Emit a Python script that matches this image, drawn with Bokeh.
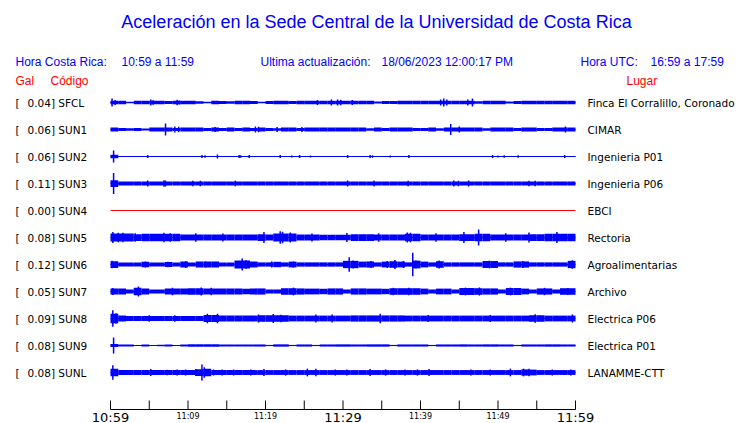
from bokeh.plotting import figure
from bokeh.models import Range1d
from bokeh.core.properties import value
from bokeh.embed import file_html
from bokeh.resources import INLINE

# ---------------- data ----------------
title_text = "Aceleración en la Sede Central de la Universidad de Costa Rica"
codes = ["SFCL", "SUN1", "SUN2", "SUN3", "SUN4", "SUN5", "SUN6", "SUN7", "SUN8", "SUN9", "SUNL"]
places = ["Finca El Corralillo, Coronado", "CIMAR", "Ingenieria P01", "Ingenieria P06", "EBCI",
          "Rectoria", "Agroalimentarias", "Archivo", "Electrica P06", "Electrica P01", "LANAMME-CTT"]
peaks_gal = [0.04, 0.06, 0.06, 0.11, 0.00, 0.08, 0.12, 0.05, 0.09, 0.08, 0.08]

# band half-width per minute (mGal), 60 minutes per station
band_sfcl = [19, 19, 8, 19, 19, 19, 19, 15, 19, 19, 19, 12, 8, 19, 15, 12, 19, 19, 15, 8,
             15, 19, 19, 15, 19, 19, 19, 19, 19, 19, 19, 19, 19, 19, 10, 15, 15, 19, 19, 19,
             19, 19, 19, 19, 19, 19, 19, 12, 19, 19, 19, 10, 15, 19, 19, 19, 19, 19, 19, 19]
band_sun1 = [21, 15, 12, 15, 10, 21, 21, 21, 15, 21, 21, 21, 15, 21, 15, 21, 15, 21, 15, 21,
             15, 12, 21, 21, 15, 21, 21, 21, 21, 21, 21, 21, 21, 12, 21, 15, 21, 21, 21, 15,
             15, 21, 12, 21, 21, 21, 21, 21, 12, 21, 21, 21, 15, 21, 21, 15, 15, 21, 21, 21]
band_sun2 = [18] + [6] * 59
band_sun3 = [35] + [22] * 59
band_sun4 = [0] * 60
band_sun5 = [42, 42, 42, 35, 38, 38, 38, 38, 38, 32, 32, 32, 32, 32, 32, 30, 30, 30, 30, 35,
             30, 42, 42, 42, 32, 32, 32, 28, 28, 28, 28, 35, 35, 35, 32, 32, 32, 32, 38, 38,
             32, 32, 32, 32, 32, 35, 35, 40, 40, 32, 32, 32, 32, 32, 35, 35, 38, 38, 38, 38]
band_sun6 = [35, 22, 22, 22, 28, 22, 22, 26, 22, 30, 22, 30, 30, 30, 22, 22, 42, 42, 30, 22,
             22, 28, 22, 30, 22, 22, 22, 22, 22, 22, 38, 38, 30, 32, 22, 30, 34, 30, 22, 40,
             30, 22, 34, 22, 22, 22, 22, 22, 36, 36, 22, 22, 32, 32, 22, 22, 22, 22, 22, 38]
band_sun7 = [30, 30, 21, 38, 32, 21, 21, 32, 32, 30, 34, 34, 30, 32, 32, 30, 30, 28, 32, 32,
             21, 21, 34, 34, 32, 30, 30, 28, 32, 32, 21, 32, 32, 30, 30, 28, 34, 34, 34, 34,
             30, 21, 30, 30, 21, 36, 36, 34, 32, 32, 21, 36, 36, 30, 21, 32, 32, 21, 34, 34]
band_sun8 = [50, 30, 26, 26, 26, 26, 26, 26, 26, 26, 26, 26, 36, 36, 30, 30, 30, 30, 30, 34,
             34, 34, 34, 30, 30, 30, 30, 30, 30, 30, 30, 32, 32, 32, 32, 32, 32, 32, 30, 30,
             30, 30, 30, 30, 30, 30, 30, 30, 30, 30, 30, 30, 30, 30, 34, 34, 30, 30, 30, 30]
band_sun9 = [16, 10, 10, 6, 10, 6, 8, 10, 6, 10, 12, 12, 12, 12, 11, 11, 11, 11, 11, 11,
             6, 12, 12, 6, 11, 11, 6, 11, 11, 12, 12, 11, 11, 12, 12, 12, 6, 11, 11, 11,
             11, 6, 11, 11, 11, 12, 11, 11, 12, 12, 11, 11, 6, 11, 11, 11, 12, 12, 11, 11]
band_sunl = [40, 25, 25, 25, 25, 25, 25, 25, 25, 25, 25, 35, 40, 25, 25, 25, 25, 25, 25, 25,
             25, 25, 25, 25, 25, 25, 25, 25, 25, 25, 25, 25, 25, 25, 25, 25, 25, 25, 25, 25,
             25, 25, 25, 25, 25, 25, 25, 25, 25, 25, 25, 25, 25, 32, 30, 25, 25, 25, 25, 25]

# spikes: minute after 10:59 and half amplitude (mGal)
spk_t_sfcl = [0.2, 0.6, 5.2, 5.5, 8.6, 8.9, 26.7, 28.5, 29.3, 29.7, 31.2, 42.6, 43.0, 43.4, 46.1, 46.7]
spk_a_sfcl = [42, 26, 32, 24, 28, 22, 26, 30, 30, 28, 25, 32, 42, 30, 30, 42]
spk_t_sun1 = [7.1, 8.3, 8.8, 13.5, 18.7, 19.1, 21.5, 24.7, 43.9, 45.0, 58.7]
spk_a_sun1 = [62, 32, 28, 27, 30, 28, 26, 27, 58, 30, 30]
spk_t_sun2 = [0.4, 4.8, 11.8, 12.2, 13.8, 16.6, 16.8, 17.9, 21.9, 23.4, 24.4, 25.8, 30.6, 33.5,
              33.8, 36.1, 38.5, 49.3, 50.0, 50.8, 52.6, 58.6]
spk_a_sun2 = [62, 15, 15, 12, 20, 15, 14, 15, 15, 10, 15, 10, 15, 15, 12, 10, 15, 15, 10, 12, 12, 15]
spk_t_sun3 = [0.4, 4.8, 6.9, 7.1, 10.6, 11.6, 16.1, 30.6, 34.0, 38.4, 44.3, 44.9, 46.2, 54.0, 54.8]
spk_a_sun3 = [110, 30, 34, 30, 28, 28, 28, 30, 30, 28, 30, 28, 30, 28, 28]
spk_t_sun4 = []
spk_a_sun4 = []
spk_t_sun5 = [0.3, 1.0, 1.6, 3.2, 6.9, 7.7, 11.0, 14.5, 19.8, 21.9, 22.2, 23.2, 26.0, 30.5, 34.6,
              38.3, 38.7, 42.0, 45.6, 47.5, 51.0, 54.0, 57.6]
spk_a_sun5 = [58, 50, 48, 45, 50, 45, 44, 42, 58, 65, 60, 52, 42, 46, 44, 52, 50, 44, 56, 84, 44, 52, 56]
spk_t_sun6 = [0.2, 4.5, 7.4, 9.7, 12.3, 17.0, 17.5, 20.8, 23.6, 30.8, 31.3, 33.6, 35.7, 36.7, 37.8,
              39.0, 39.4, 42.4, 48.9, 53.2, 59.6]
spk_a_sun6 = [40, 32, 28, 36, 32, 62, 45, 32, 32, 76, 42, 36, 36, 46, 36, 122, 42, 42, 40, 36, 44]
spk_t_sun7 = [0.3, 3.6, 8.0, 11.7, 13.0, 23.6, 36.5, 38.5, 45.8, 47.6, 51.6, 56.0, 59.0]
spk_a_sun7 = [36, 52, 40, 42, 38, 40, 38, 40, 40, 42, 40, 38, 36]
spk_t_sun8 = [0.3, 0.7, 5.0, 8.3, 12.5, 13.8, 19.1, 21.0, 22.0, 26.5, 28.6, 34.8, 41.0, 49.0, 54.8, 59.6]
spk_a_sun8 = [86, 55, 34, 34, 50, 50, 42, 46, 40, 42, 42, 48, 36, 36, 44, 42]
spk_t_sun9 = [0.4]
spk_a_sun9 = [82]
spk_t_sunl = [0.3, 5.2, 7.3, 8.6, 9.7, 11.0, 11.8, 12.1, 13.3, 14.4, 15.9, 18.1, 19.8, 22.6, 25.4,
              26.5, 29.0, 30.5, 33.5, 35.5, 38.0, 39.6, 41.1, 46.5, 49.0, 51.6, 53.3, 54.0, 57.0, 59.4]
spk_a_sunl = [74, 36, 28, 32, 32, 36, 82, 55, 32, 32, 32, 32, 36, 32, 40, 40, 32, 32, 36, 32, 32,
              32, 36, 32, 32, 40, 40, 38, 32, 32]

bands = [band_sfcl, band_sun1, band_sun2, band_sun3, band_sun4, band_sun5,
         band_sun6, band_sun7, band_sun8, band_sun9, band_sunl]
spike_t = [spk_t_sfcl, spk_t_sun1, spk_t_sun2, spk_t_sun3, spk_t_sun4, spk_t_sun5,
           spk_t_sun6, spk_t_sun7, spk_t_sun8, spk_t_sun9, spk_t_sunl]
spike_a = [spk_a_sfcl, spk_a_sun1, spk_a_sun2, spk_a_sun3, spk_a_sun4, spk_a_sun5,
           spk_a_sun6, spk_a_sun7, spk_a_sun8, spk_a_sun9, spk_a_sunl]

tick_minutes = list(range(0, 61, 5))
label_minutes = [0, 10, 20, 30, 40, 50, 60]
label_texts = ["10:59", "11:09", "11:19", "11:29", "11:39", "11:49", "11:59"]
label_big = [True, False, False, True, False, False, True]
duration_min = 60

# ---------------- layout ----------------
W, H = 740, 423
PAGE = 0
T0 = 110.0            # page x of minute 0
PXMIN = 465.0 / 60.0  # pixels per minute
R0 = 102.0            # page y of first trace
RSTEP = 27.0
ROW_GAL = 0.28
PXGAL = RSTEP / ROW_GAL

def X(px):
    return (px - T0) / PXMIN

def Y(py):
    return (R0 - py) / PXGAL

BLUE = "#0000ff"
RED = "#ff0000"

p = figure(width=W, height=H, output_backend="svg", toolbar_location=None,
           x_range=Range1d(X(PAGE), X(PAGE + W)), y_range=Range1d(Y(PAGE + H), Y(PAGE)),
           x_axis_type=None, y_axis_type=None,
           min_border=0, min_border_left=0, min_border_right=0, min_border_top=0, min_border_bottom=0,
           outline_line_color=None, background_fill_color="white", border_fill_color="white")
p.grid.visible = False

offsets = [-i * ROW_GAL for i in range(len(codes))]

# baselines
for i, off in enumerate(offsets):
    col = RED if peaks_gal[i] == 0 else BLUE
    p.line(x=[0, duration_min], y=[off, off], line_color=col, line_width=1)

# bands
ql, qr, qb, qt = [], [], [], []
for i, off in enumerate(offsets):
    for m, b in enumerate(bands[i]):
        if b <= 0:
            continue
        ql.append(m)
        qr.append(m + 1)
        qb.append(off - b / 1000.0)
        qt.append(off + b / 1000.0)
p.quad(left=ql, right=qr, bottom=qb, top=qt, fill_color=BLUE, line_color=None)

# spikes
sx, sy0, sy1 = [], [], []
for i, off in enumerate(offsets):
    for t, a in zip(spike_t[i], spike_a[i]):
        sx.append(t)
        sy0.append(off - a / 1000.0)
        sy1.append(off + a / 1000.0)
p.segment(x0=sx, y0=sy0, x1=sx, y1=sy1, line_color=BLUE, line_width=1.5)

# title and header (centres of text lines)
p.text(x=[X(376)], y=[Y(21)], text=[title_text], text_font=value("Liberation Sans"),
       text_font_size=value("18px"), text_color=BLUE, text_align="center", text_baseline="middle")
hdr_x = [15, 121, 260, 381, 580, 650]
hdr_t = ["Hora Costa Rica:", "10:59 a 11:59", "Ultima actualización:", "18/06/2023 12:00:17 PM",
         "Hora UTC:", "16:59 a 17:59"]
p.text(x=[X(v) for v in hdr_x], y=[Y(61)] * len(hdr_x), text=hdr_t, text_font=value("Liberation Sans"),
       text_font_size=value("12px"), text_color=BLUE, text_align="left", text_baseline="middle")
p.text(x=[X(15), X(50), X(626)], y=[Y(80)] * 3, text=["Gal", "Código", "Lugar"],
       text_font=value("Liberation Sans"), text_font_size=value("12px"), text_color=RED,
       text_align="left", text_baseline="middle")

# row labels
p.text(x=[X(15)] * len(codes), y=offsets, text=["["] * len(codes), text_font=value("DejaVu Sans"),
       text_font_size=value("10.5px"), text_color="black", text_align="left", text_baseline="middle")
p.text(x=[X(27)] * len(codes), y=offsets, text=[f"{v:.2f}] {c}" for v, c in zip(peaks_gal, codes)],
       text_font=value("DejaVu Sans"), text_font_size=value("10.5px"), text_color="black",
       text_align="left", text_baseline="middle")
p.text(x=[X(587)] * len(codes), y=offsets, text=places, text_font=value("DejaVu Sans"),
       text_font_size=value("10.5px"), text_color="black", text_align="left", text_baseline="middle")

# time axis
AX = 409
p.line(x=[0, duration_min], y=[Y(AX), Y(AX)], line_color="black", line_width=1)
p.segment(x0=tick_minutes, y0=[Y(AX - 9)] * len(tick_minutes), x1=tick_minutes,
          y1=[Y(AX)] * len(tick_minutes), line_color="black", line_width=1)
bx = [m for m, b in zip(label_minutes, label_big) if b]
bt = [t for t, b in zip(label_texts, label_big) if b]
sxl = [m for m, b in zip(label_minutes, label_big) if not b]
stl = [t for t, b in zip(label_texts, label_big) if not b]
p.text(x=bx, y=[Y(AX + 7.5)] * len(bx), text=bt, text_font=value("DejaVu Sans"),
       text_font_size=value("13px"), text_color="black", text_align="center", text_baseline="middle")
p.text(x=sxl, y=[Y(AX + 7)] * len(sxl), text=stl, text_font=value("DejaVu Sans"),
       text_font_size=value("8px"), text_color="black", text_align="center", text_baseline="middle")

open("out.html", "w").write(file_html(p, INLINE))
